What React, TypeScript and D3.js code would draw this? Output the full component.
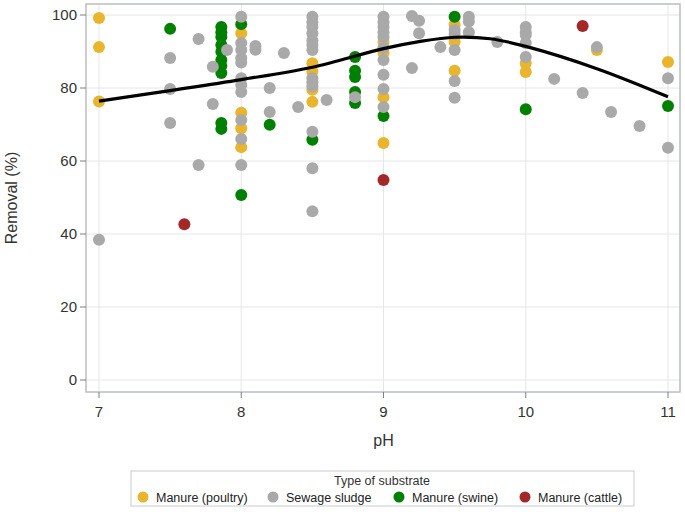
import React from "react";
import * as d3 from "d3";

// ---- data ----
const poultryPH = [7, 7, 7, 8, 8, 8, 8, 8.5, 8.5, 8.5, 8.5, 9, 9, 9, 9, 9.5, 9.5, 9.5, 10, 10, 10.5, 11];
const poultryRemoval = [99.2, 91.2, 76.3, 95, 73.2, 69, 63.8, 86.8, 84.5, 79.5, 76.2, 92.6, 89.6, 77.5, 64.9, 97.3, 92.6, 84.7, 86.8, 84.4, 90.4, 87.1];

const sewagePH = [
  7, 7.5, 7.5, 7.5, 7.7, 7.7, 7.8, 7.8, 7.9,
  8, 8, 8, 8, 8, 8, 8, 8, 8, 8, 8,
  8.1, 8.1, 8.2, 8.2, 8.3, 8.4,
  8.5, 8.5, 8.5, 8.5, 8.5, 8.5, 8.5, 8.5, 8.5, 8.5, 8.5, 8.5, 8.5,
  8.6, 8.8,
  9, 9, 9, 9, 9, 9, 9, 9, 9, 9,
  9.2, 9.2, 9.25, 9.25, 9.4,
  9.5, 9.5, 9.5, 9.5, 9.5, 9.6, 9.6, 9.6,
  9.8, 10, 10, 10, 10, 10, 10.2, 10.4, 10.5, 10.6, 10.8, 11, 11,
];
const sewageRemoval = [
  38.4, 88.2, 79.7, 70.4, 93.4, 58.9, 85.8, 75.6, 90.4,
  99.5, 92.3, 90.4, 88.2, 87, 82.7, 80.8, 78.9, 71.2, 66, 58.9,
  91.5, 90.5, 80, 73.4, 89.6, 74.8,
  99.5, 98, 96.7, 95, 93, 91.8, 90.4, 82.7, 81.6, 80.5, 68, 58, 46.2,
  76.7, 77.5,
  99.5, 98, 96.7, 95.3, 94, 91, 87.7, 83.6, 79.7, 74.8,
  99.7, 85.5, 98.4, 95, 91.2,
  95.9, 94.8, 90.4, 81.9, 77.3, 99.5, 98.2, 95.3,
  92.6, 96.7, 95.3, 94.5, 92.3, 88.5, 82.5, 78.6, 91.2, 73.4, 69.6, 82.7, 63.6,
];

const swinePH = [7.5, 7.86, 7.86, 7.86, 7.86, 7.86, 7.86, 7.86, 7.86, 7.86, 7.86, 8, 8, 8.2, 8.5, 8.8, 8.8, 8.8, 8.8, 8.8, 9, 9.5, 10, 11];
const swineRemoval = [96.2, 96.7, 95.3, 94, 91.8, 89.9, 87.7, 86, 84.1, 70.4, 68.8, 97.5, 50.7, 69.9, 65.8, 88.5, 84.7, 83, 78.9, 75.9, 72.3, 99.5, 74.2, 75.1];

const cattlePH = [7.6, 9, 10.4];
const cattleRemoval = [42.7, 54.8, 97];

const fitPH = [7, 7.5, 8, 8.5, 9, 9.25, 9.5, 9.75, 10, 10.5, 11];
const fitRemoval = [76.4, 79.3, 82.3, 85.7, 90.8, 92.7, 93.9, 93.5, 91.4, 85.3, 77.6];

const xTicks = [7, 8, 9, 10, 11];
const yTicks = [0, 20, 40, 60, 80, 100];

const seriesNames = ["Manure (poultry)", "Sewage sludge", "Manure (swine)", "Manure (cattle)"];
const seriesColors = ["#E9B52C", "#A9A9A9", "#008000", "#A52828"];

export default function App() {
  const W = 685, H = 512;
  const frame = { left: 86, right: 680, top: 4, bottom: 392 };
  const x = d3.scaleLinear().domain([7, 11]).range([99, 668]);
  const y = d3.scaleLinear().domain([0, 100]).range([380, 15]);
  const font = "'Liberation Sans', Arial, sans-serif";

  const groups = [
    { name: seriesNames[0], color: seriesColors[0], xs: poultryPH, ys: poultryRemoval },
    { name: seriesNames[2], color: seriesColors[2], xs: swinePH, ys: swineRemoval },
    { name: seriesNames[1], color: seriesColors[1], xs: sewagePH, ys: sewageRemoval },
    { name: seriesNames[3], color: seriesColors[3], xs: cattlePH, ys: cattleRemoval },
  ];

  const line = d3
    .line<number>()
    .x((d, i) => x(fitPH[i]))
    .y((d) => y(d))
    .curve(d3.curveCatmullRom.alpha(0.5));

  const legendItemsX = [143, 273, 399, 525];

  return (
    <svg width={W} height={H} style={{ position: "absolute", left: 0, top: 0, background: "#fff" }} fontFamily={font}>
      <rect x={0} y={0} width={W} height={H} fill="#fff" />
      {xTicks.map((t) => (
        <line key={"gx" + t} x1={x(t)} x2={x(t)} y1={frame.top} y2={frame.bottom} stroke="#E6E6E6" strokeWidth={1} />
      ))}
      {yTicks.map((t) => (
        <line key={"gy" + t} x1={frame.left} x2={frame.right} y1={y(t)} y2={y(t)} stroke="#E6E6E6" strokeWidth={1} />
      ))}
      {groups.map((g) =>
        g.xs.map((px, i) => (
          <circle key={g.name + i} cx={x(px)} cy={y(g.ys[i])} r={6} fill={g.color} />
        ))
      )}
      <path d={line(fitRemoval) || ""} fill="none" stroke="#000" strokeWidth={3.2} />
      <rect x={frame.left} y={frame.top} width={frame.right - frame.left} height={frame.bottom - frame.top} fill="none" stroke="#B9BEC3" strokeWidth={1.5} />
      {yTicks.map((t) => (
        <g key={"yt" + t}>
          <line x1={frame.left - 6} x2={frame.left} y1={y(t)} y2={y(t)} stroke="#7F7F7F" strokeWidth={1} />
          <text x={frame.left - 9} y={y(t)} dy="0.35em" textAnchor="end" fontSize={15} fill="#333">
            {t}
          </text>
        </g>
      ))}
      {xTicks.map((t) => (
        <g key={"xt" + t}>
          <line x1={x(t)} x2={x(t)} y1={frame.bottom} y2={frame.bottom + 6} stroke="#7F7F7F" strokeWidth={1} />
          <text x={x(t)} y={frame.bottom + 25} textAnchor="middle" fontSize={15} fill="#333">
            {t}
          </text>
        </g>
      ))}
      <text x={x(9)} y={446} textAnchor="middle" fontSize={16} fill="#333">pH</text>
      <text transform={`translate(17,${(frame.top + frame.bottom) / 2}) rotate(-90)`} textAnchor="middle" fontSize={16} fill="#333">
        Removal (%)
      </text>
      <rect x={131} y={471} width={503} height={35} fill="#fff" stroke="#C8CCD0" strokeWidth={1} />
      <text x={382} y={485} textAnchor="middle" fontSize={12.5} fill="#333">Type of substrate</text>
      {seriesNames.map((n, i) => (
        <g key={n}>
          <circle cx={legendItemsX[i]} cy={497} r={5.5} fill={seriesColors[i]} />
          <text x={legendItemsX[i] + 13} y={501.5} fontSize={12.5} fill="#222">{n}</text>
        </g>
      ))}
    </svg>
  );
}
